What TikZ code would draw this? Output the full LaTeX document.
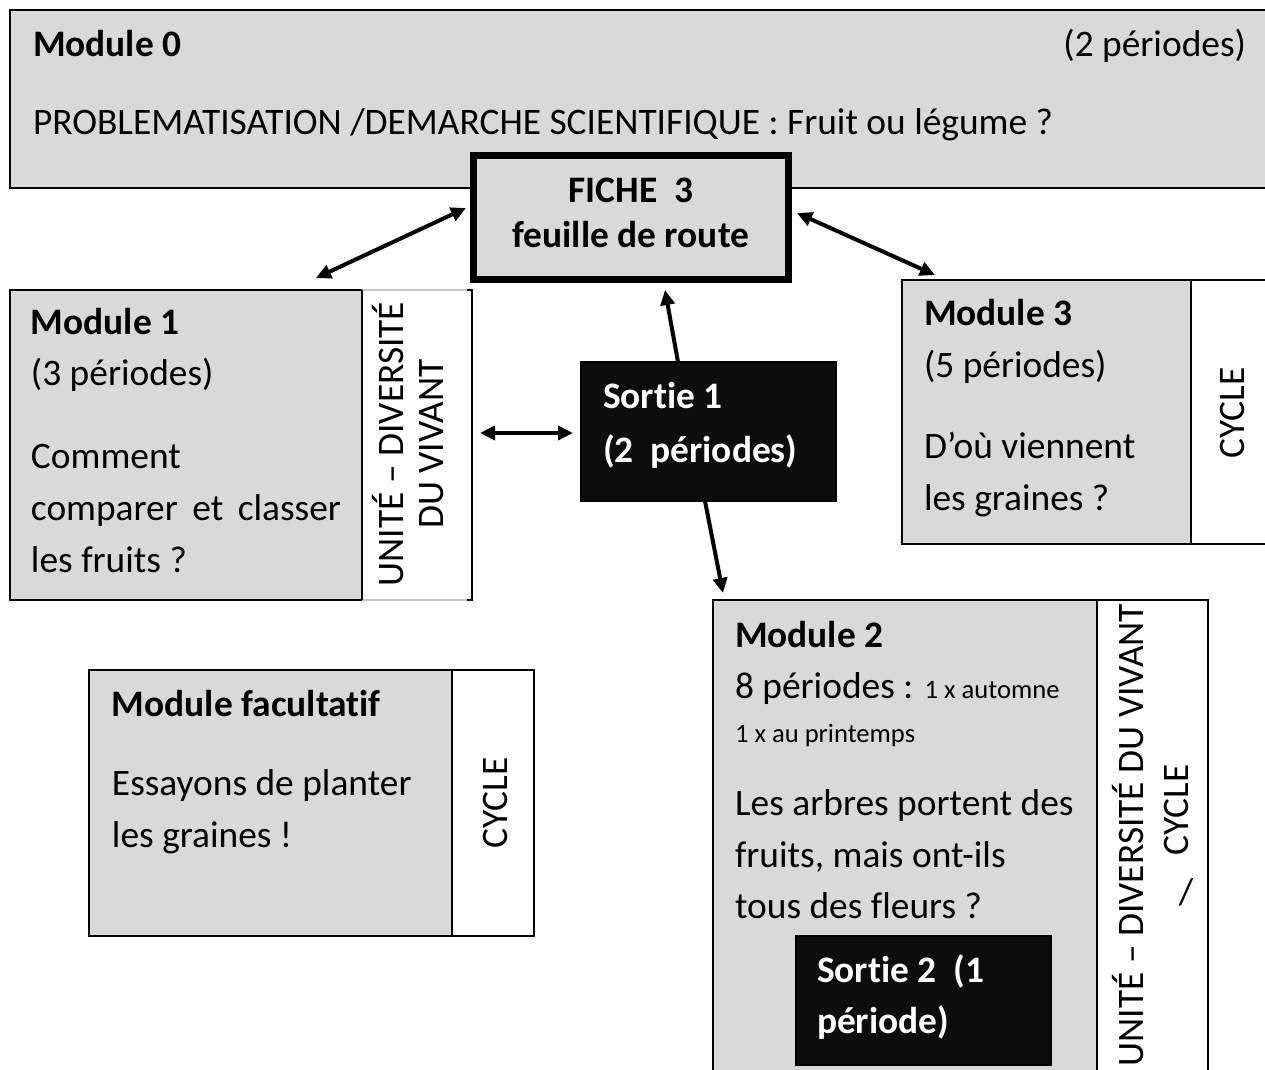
\documentclass[tikz,border=0pt]{standalone}
\usepackage{fontspec}
\setmainfont{Carlito}[Ligatures={NoCommon}]
\usetikzlibrary{arrows.meta}
\definecolor{boxgray}{HTML}{D9D9D9}
\definecolor{boxblack}{HTML}{0D0D0D}
\begin{document}
\begin{tikzpicture}[x=0.5pt,y=-0.5pt,
  region/.style 2 args={inner sep=0pt, outer sep=0pt, anchor=north west,
     minimum width=#1*0.5pt, minimum height=#2*0.5pt},
  graybox/.style={draw=black, line width=1pt, fill=boxgray},
  whitebox/.style={draw=black, line width=1pt, fill=white},
  blackbox/.style={draw=black, line width=1pt, fill=boxblack},
  txt/.style={inner sep=0pt, outer sep=0pt, anchor=base west, font=\fontsize{18.7}{22}\selectfont},
  txtb/.style={txt, font=\fontsize{18.7}{22}\selectfont\bfseries},
  vtxt/.style={inner sep=0pt, outer sep=0pt, anchor=base, rotate=90, font=\fontsize{18.7}{22}\selectfont},
  link/.style={line width=2pt, -{Triangle[length=7.5pt,width=7pt]}},
  dlink/.style={line width=2pt, {Triangle[length=7.5pt,width=7pt]}-{Triangle[length=7.5pt,width=7pt]}}
]
\useasboundingbox (0,0) rectangle (1265,1070);
\clip (0,0) rectangle (1265,1070);

% Module 0
\node[graybox, region={1290}{178}] (m0) at (10,10) {};
\node[txtb] (m0t) at (33,57) {Module 0};
\node[txt, anchor=base east] (m0p) at (1246,57) {(2 périodes)};
\node[txt] (m0q) at (33,135) {PROBLEMATISATION /DEMARCHE SCIENTIFIQUE : Fruit ou légume ?};

% FICHE 3
\node[draw=black, fill=boxgray, line width=3.5pt, inner sep=0pt, minimum width=157.5pt, minimum height=62pt] (fiche) at (631,217.5) {};
\node[txtb, anchor=base] (f1) at (631,203) {FICHE\ \ 3};
\node[txtb, anchor=base] (f2) at (631,248) {feuille de route};

% Module 1
\node[graybox, region={352}{310}] (m1g) at (10,290) {};
\node[fill=white, region={110}{310}] (m1w) at (362,290) {};
\draw[gray!45, line width=1pt] (m1w.north west) -- (m1w.north east);
\draw[gray!45, line width=1pt] (m1w.south west) -- (m1w.south east);
\draw[black, line width=1pt] ([xshift=-2.5pt]m1w.north east) -- (m1w.north east) -- (m1w.south east) -- ([xshift=-2.5pt]m1w.south east);
\draw[black, line width=1pt] (m1g.north east) -- (m1g.south east);
\node[txtb] (m1a) at (31,335) {Module 1};
\node[txt] (m1b) at (31,385) {(3 périodes)};
\node[txt] (m1c) at (31,468) {Comment};
\node[txt] (m1d) at (31,520) {\makebox[155pt][s]{comparer et classer}};
\node[txt] (m1e) at (31,572) {les fruits ?};
\node[vtxt] (m1v1) at (403,444) {UNITÉ – DIVERSITÉ};
\node[vtxt] (m1v2) at (443,444) {DU VIVANT};

% Sortie 1
\node[blackbox, region={255}{139}] (s1) at (581,362) {};
\node[txtb, text=white] (s1a) at (603,408) {Sortie 1};
\node[txtb, text=white] (s1b) at (603,462) {(2\ \ périodes)};

% Module 3
\node[graybox, region={289}{264}] (m3g) at (902,280) {};
\node[whitebox, region={120}{264}] (m3w) at (1191,280) {};
\node[txtb] (m3a) at (924,325) {Module 3};
\node[txt] (m3b) at (924,377) {(5 périodes)};
\node[txt] (m3c) at (924,458) {D’où viennent};
\node[txt] (m3d) at (924,510) {les graines ?};
\node[vtxt] (m3v) at (1244,413) {CYCLE};

% Module 2
\node[graybox, region={384}{520}] (m2g) at (713,600) {};
\node[whitebox, region={111}{520}] (m2w) at (1097,600) {};
\node[txtb] (m2a) at (735,647) {Module 2};
\node[txt] (m2b) at (735,698) {8 périodes : {\fontsize{13.3}{15}\selectfont 1 x automne}};
\node[txt, font=\fontsize{13.3}{15}\selectfont] (m2c) at (735,742) {1 x au printemps};
\node[txt] (m2d) at (735,815) {Les arbres portent des};
\node[txt] (m2e) at (735,867) {fruits, mais ont-ils};
\node[txt] (m2f) at (735,918) {tous des fleurs ?};
\node[blackbox, region={255}{129}] (s2) at (796,936) {};
\node[txtb, text=white] (s2a) at (817,982) {Sortie 2\ \ (1};
\node[txtb, text=white] (s2b) at (817,1033) {période)};
\node[vtxt] (m2v1) at (1143,835) {UNITÉ – DIVERSITÉ DU VIVANT};
\node[vtxt] (m2v2) at (1188,810) {CYCLE};
\node[inner sep=0pt, font=\fontsize{18.7}{22}\selectfont] (m2sl) at (1186,892) {/};

% Module facultatif
\node[graybox, region={363}{266}] (mfg) at (89,670) {};
\node[whitebox, region={82}{266}] (mfw) at (452,670) {};
\node[txtb] (mfa) at (112,716) {Module facultatif};
\node[txt] (mfb) at (112,795) {Essayons de planter};
\node[txt] (mfc) at (112,847) {les graines !};
\node[vtxt] (mfv) at (507,803) {CYCLE};

% connectors
\draw[dlink] ([shift={(-46,-12)}]m1w.north west) -- ([shift={(-4,-9.5)}]fiche.west);
\draw[dlink] ([shift={(5,-4.5)}]fiche.east) -- ([shift={(33,-5)}]m3g.north west);
\draw[link] ([shift={(-30.5,0)}]s1.north) -- ([shift={(34,7)}]fiche.south);
\draw[link] ([shift={(-3.5,0)}]s1.south) -- ([shift={(10,-7)}]m2g.north west);
\draw[dlink] ([shift={(8,-12)}]m1w.east) -- ([shift={(-8,1.5)}]s1.west);
\end{tikzpicture}
\end{document}
